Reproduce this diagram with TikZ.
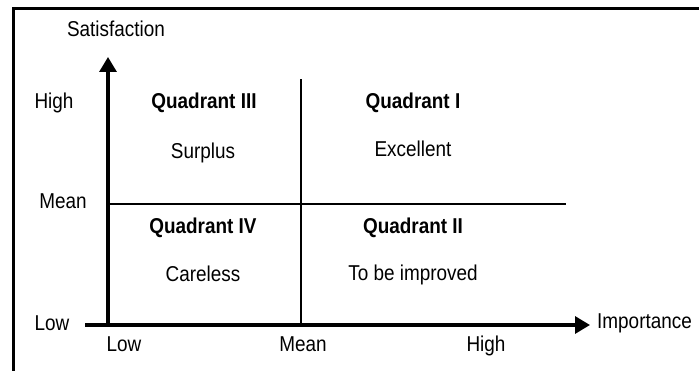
\documentclass[tikz,border=0pt]{standalone}
\usepackage{fontspec}
\setmainfont{Liberation Sans}[FakeStretch=0.88]
\usetikzlibrary{arrows.meta}

\begin{document}
\begin{tikzpicture}[
    x=1pt, y=1pt,
    lbl/.style={inner sep=0pt, text height=0.72em, text depth=0pt, font=\fontsize{21.5}{24}\selectfont},
    quad/.style={lbl, font=\fontsize{21.5}{24}\selectfont\bfseries},
    axis/.style={line width=3.2pt, -{Triangle[length=15pt, width=17pt]}},
    divider/.style={line width=1.8pt},
    frame/.style={line width=3pt}
]
\useasboundingbox (0,0) rectangle (699,370);

% Frame (only top and left edges fall inside the page)
\draw[frame] (13.5,-5) |- (705,361.5);

% Axes
\coordinate (origin) at (108,45);
\coordinate (xstart) at (85,45);
\coordinate (xend) at (590,45);
\coordinate (yend) at (108,313);
\draw[axis] (xstart) -- (xend);
\draw[axis] (origin) -- (yend);

% Quadrant dividers
\coordinate (hleft) at (108,166);
\coordinate (hright) at (566,166);
\coordinate (vbottom) at (301,45);
\coordinate (vtop) at (301,291);
\draw[divider] (hleft) -- (hright);
\draw[divider] (vbottom) -- (vtop);

% Axis titles
\node[lbl] (ytitle) at (116,337) {Satisfaction};
\node[lbl, anchor=west] (xtitle) at (597,45) {Importance};

% Scale labels
\node[lbl] (yhigh) at (54,265) {High};
\node[lbl] (ymean) at (63,165) {Mean};
\node[lbl] (ylow) at (52,43) {Low};
\node[lbl] (xlow) at (124,22) {Low};
\node[lbl] (xmean) at (303,22) {Mean};
\node[lbl] (xhigh) at (486,22) {High};

% Quadrants
\node[quad] (q3) at (204,265) {Quadrant III};
\node[lbl] (surplus) at (203,215) {Surplus};
\node[quad] (q1) at (413,265) {Quadrant I};
\node[lbl] (excellent) at (413,217) {Excellent};
\node[quad] (q4) at (203,140) {Quadrant IV};
\node[lbl] (careless) at (203,92) {Careless};
\node[quad] (q2) at (413,140) {Quadrant II};
\node[lbl] (improve) at (413,93) {To be improved};

\end{tikzpicture}
\end{document}
